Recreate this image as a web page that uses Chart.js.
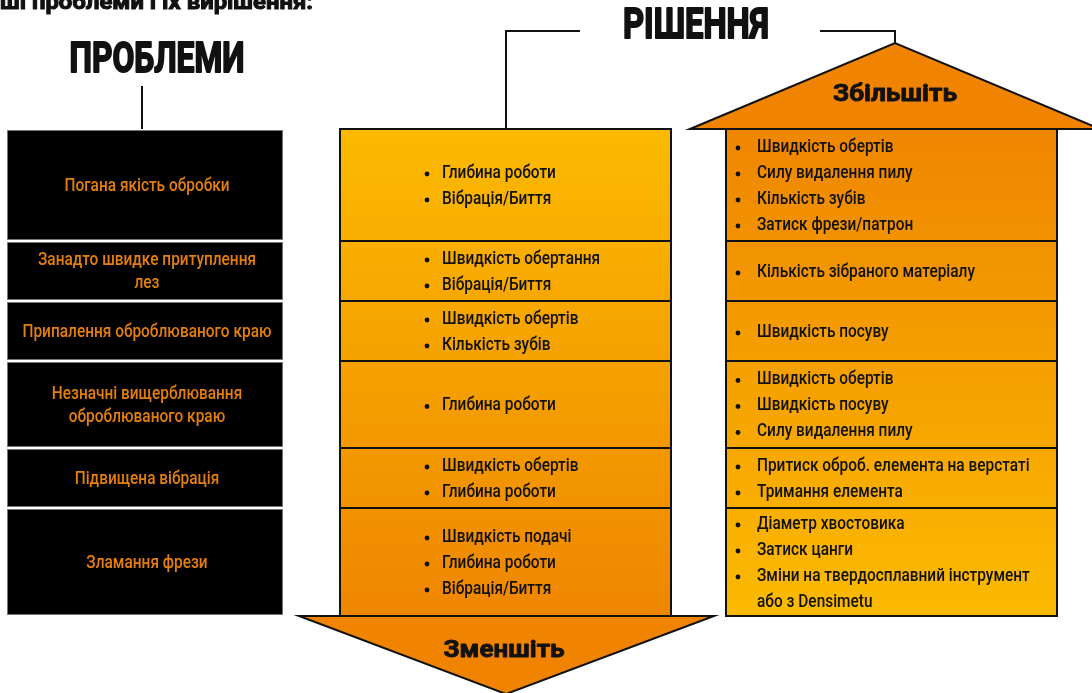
<!DOCTYPE html>
<html>
<head>
<meta charset="utf-8">
<script src="https://cdn.jsdelivr.net/npm/chart.js@4.4.1/dist/chart.umd.min.js"></script>
<style>
  html, body { margin: 0; padding: 0; background: #fff; overflow: hidden; }
  canvas { display: block; }
</style>
</head>
<body>
<canvas id="chart" width="1092" height="693"></canvas>
<script>
// --- data ---
const headerText = 'ші проблеми і їх вирішення:';
const problemsTitle = 'ПРОБЛЕМИ';
const solutionsTitle = 'РІШЕННЯ';
const decreaseLabel = 'Зменшіть';
const increaseLabel = 'Збільшіть';

const problems = [
  ['Погана якість обробки'],
  ['Занадто швидке притуплення', 'лез'],
  ['Припалення оброблюваного краю'],
  ['Незначні вищерблювання', 'оброблюваного краю'],
  ['Підвищена вібрація'],
  ['Зламання фрези']
];
const decrease = [
  ['Глибина роботи', 'Вібрація/Биття'],
  ['Швидкість обертання', 'Вібрація/Биття'],
  ['Швидкість обертів', 'Кількість зубів'],
  ['Глибина роботи'],
  ['Швидкість обертів', 'Глибина роботи'],
  ['Швидкість подачі', 'Глибина роботи', 'Вібрація/Биття']
];
const increase = [
  ['Швидкість обертів', 'Силу видалення пилу', 'Кількість зубів', 'Затиск фрези/патрон'],
  ['Кількість зібраного матеріалу'],
  ['Швидкість посуву'],
  ['Швидкість обертів', 'Швидкість посуву', 'Силу видалення пилу'],
  ['Притиск оброб. елемента на верстаті', 'Тримання елемента'],
  ['Діаметр хвостовика', 'Затиск цанги', 'Зміни на твердосплавний інструмент\nабо з Densimetu']
];

// --- layout (canvas units) ---
const W = 1092, H = 693;
const rowEdges = [129, 241, 301, 361, 448, 508, 616];
const leftCol = { x0: 7, x1: 283 };
const midCol = { x0: 340, x1: 671, bullet: 427, text: 442 };
const rightCol = { x0: 726, x1: 1057, bullet: 738, text: 757 };
const lineGap = 26;
const FONT = 'Roboto, "Open Sans", sans-serif';

const ORANGE = '#f08400';
const YELLOW = '#fbba00';

function condText(ctx, str, x, y, font, sx, align, color, heavy) {
  ctx.save();
  ctx.font = font;
  ctx.fillStyle = color;
  ctx.textAlign = align;
  ctx.textBaseline = 'middle';
  ctx.translate(x, y);
  ctx.scale(sx, 1);
  if (heavy) {
    ctx.strokeStyle = color;
    ctx.lineWidth = heavy;
    ctx.lineJoin = 'round';
    ctx.strokeText(str, 0, 0);
  }
  ctx.fillText(str, 0, 0);
  ctx.restore();
}
function fitScale(ctx, str, font, width) {
  ctx.save();
  ctx.font = font;
  const w = ctx.measureText(str).width;
  ctx.restore();
  return width / w;
}

const infographic = {
  id: 'infographic',
  afterDraw(chart) {
    const ctx = chart.ctx;
    const sx = v => chart.scales.x.getPixelForValue(v);
    const sy = v => chart.scales.y.getPixelForValue(v);

    const bodyFont = '500 18px ' + FONT;
    const kBody = fitScale(ctx, 'Припалення оброблюваного краю', bodyFont, 249);

    ctx.save();
    // header (clipped at top)
    const hFont = 'bold 22px ' + FONT;
    ctx.save();
    ctx.font = hFont; ctx.fillStyle = '#111'; ctx.textBaseline = 'alphabetic';
    ctx.translate(sx(0), sy(9));
    ctx.scale(fitScale(ctx, headerText, hFont, 313), 1);
    ctx.strokeStyle = '#111'; ctx.lineWidth = 1;
    ctx.strokeText(headerText, 0, 0);
    ctx.fillText(headerText, 0, 0);
    ctx.restore();

    // titles
    const tFont = 'bold 42px ' + FONT;
    condText(ctx, problemsTitle, sx(157), sy(61), tFont, fitScale(ctx, problemsTitle, tFont, 175), 'center', '#111', 2);
    condText(ctx, solutionsTitle, sx(696), sy(27), tFont, fitScale(ctx, solutionsTitle, tFont, 146), 'center', '#111', 2);

    // connector lines
    ctx.strokeStyle = '#111';
    ctx.lineWidth = 2;
    ctx.beginPath();
    ctx.moveTo(sx(142), sy(86)); ctx.lineTo(sx(142), sy(129));
    ctx.moveTo(sx(580), sy(31)); ctx.lineTo(sx(506), sy(31)); ctx.lineTo(sx(506), sy(129));
    ctx.moveTo(sx(820), sy(31)); ctx.lineTo(sx(895), sy(31)); ctx.lineTo(sx(895), sy(44));
    ctx.stroke();

    // problems column
    problems.forEach((lines, i) => {
      const top = sy(rowEdges[i] + 1), bot = sy(rowEdges[i + 1] - 1);
      ctx.fillStyle = '#000';
      ctx.fillRect(sx(leftCol.x0), top, sx(leftCol.x1) - sx(leftCol.x0), bot - top);
      ctx.strokeStyle = '#777'; ctx.lineWidth = 1;
      ctx.strokeRect(sx(leftCol.x0) + 0.5, top + 0.5, sx(leftCol.x1) - sx(leftCol.x0) - 1, bot - top - 1);
      const cy = (sy(rowEdges[i]) + sy(rowEdges[i + 1])) / 2 + 1;
      const gap = 23;
      lines.forEach((t, j) => {
        const y = cy + (j - (lines.length - 1) / 2) * gap;
        condText(ctx, t, (sx(leftCol.x0) + sx(leftCol.x1)) / 2 + 2, y, bodyFont, kBody, 'center', '#e47f0e');
      });
    });

    // solution columns
    function column(col, items, c0, c1) {
      const top = sy(rowEdges[0]), bot = sy(rowEdges[rowEdges.length - 1]);
      const g = ctx.createLinearGradient(0, top, 0, bot);
      g.addColorStop(0, c0); g.addColorStop(1, c1);
      ctx.fillStyle = g;
      ctx.fillRect(sx(col.x0), top, sx(col.x1) - sx(col.x0), bot - top);
      ctx.strokeStyle = '#111'; ctx.lineWidth = 2;
      ctx.strokeRect(sx(col.x0), top, sx(col.x1) - sx(col.x0), bot - top);
      ctx.beginPath();
      rowEdges.slice(1, -1).forEach(e => { ctx.moveTo(sx(col.x0), sy(e)); ctx.lineTo(sx(col.x1), sy(e)); });
      ctx.stroke();
      items.forEach((entries, i) => {
        const lines = [];
        entries.forEach(e => e.split('\n').forEach((l, k) => lines.push({ t: l, bullet: k === 0 })));
        const cy = (sy(rowEdges[i]) + sy(rowEdges[i + 1])) / 2 + 1;
        lines.forEach((l, j) => {
          const y = cy + (j - (lines.length - 1) / 2) * lineGap;
          if (l.bullet) {
            ctx.fillStyle = '#111';
            ctx.beginPath(); ctx.arc(sx(col.bullet), y + 1, 2.4, 0, Math.PI * 2); ctx.fill();
          }
          condText(ctx, l.t, sx(col.text), y, bodyFont, kBody, 'left', '#111');
        });
      });
    }
    column(midCol, decrease, YELLOW, '#ef8600');
    column(rightCol, increase, '#ef8600', YELLOW);

    // arrows
    const aFont = 'bold 23px ' + FONT;
    ctx.lineWidth = 2; ctx.strokeStyle = '#111'; ctx.lineJoin = 'miter';
    ctx.fillStyle = ORANGE;
    ctx.beginPath();
    ctx.moveTo(sx(299), sy(616)); ctx.lineTo(sx(714), sy(616)); ctx.lineTo(sx(506), sy(694)); ctx.closePath();
    ctx.fill(); ctx.stroke();
    condText(ctx, decreaseLabel, sx(504), sy(651), aFont, fitScale(ctx, decreaseLabel, aFont, 121), 'center', '#111', 0.8);

    ctx.fillStyle = ORANGE;
    ctx.beginPath();
    ctx.moveTo(sx(690), sy(129)); ctx.lineTo(sx(895), sy(43)); ctx.lineTo(sx(1100), sy(129)); ctx.closePath();
    ctx.fill(); ctx.stroke();
    condText(ctx, increaseLabel, sx(895), sy(95), aFont, fitScale(ctx, increaseLabel, aFont, 124), 'center', '#111', 0.8);
    ctx.restore();
  }
};

new Chart(document.getElementById('chart'), {
  type: 'scatter',
  data: { datasets: [] },
  options: {
    responsive: false,
    animation: false,
    events: [],
    layout: { padding: 0 },
    plugins: { legend: { display: false }, tooltip: { enabled: false } },
    scales: {
      x: { type: 'linear', min: 0, max: W, display: false },
      y: { type: 'linear', min: 0, max: H, reverse: true, display: false }
    }
  },
  plugins: [infographic]
});
</script>
</body>
</html>
